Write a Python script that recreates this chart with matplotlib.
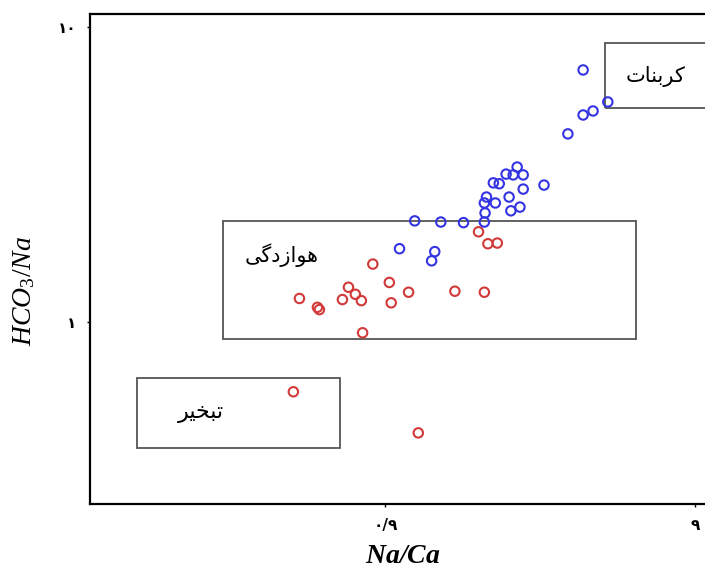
import matplotlib
matplotlib.use("Agg")
import matplotlib.pyplot as plt
from matplotlib.patches import Rectangle

plt.rcParams['font.family'] = ['DejaVu Sans']
plt.rcParams['mathtext.fontset'] = 'custom'
plt.rcParams['mathtext.rm'] = 'Liberation Serif'
plt.rcParams['mathtext.it'] = 'Liberation Serif:italic'
plt.rcParams['mathtext.bf'] = 'Liberation Serif:bold:italic'

# data (Na/Ca, HCO3/Na)
blue_x = [3.92, 4.71, 4.22, 3.92, 3.50, 2.93, 2.40, 2.21, 2.33, 2.51, 2.01, 2.10, 2.51, 1.91,
          2.26, 2.04, 2.45, 2.29, 1.88, 1.89, 1.88, 1.12, 1.36, 1.61, 1.00, 1.30, 1.27]
blue_y = [7.15, 5.57, 5.19, 5.03, 4.34, 2.91, 3.35, 3.17, 3.15, 3.15, 2.96, 2.94, 2.82, 2.65,
          2.65, 2.53, 2.45, 2.38, 2.53, 2.34, 2.18, 2.20, 2.18, 2.17, 1.77, 1.73, 1.61]
red_x = [1.80, 1.93, 2.07, 0.82, 0.475, 0.543, 0.551, 0.684, 0.72, 0.654, 0.753, 0.927,
         1.07, 0.94, 0.76, 1.51, 1.88, 0.454, 1.15]
red_y = [2.02, 1.84, 1.85, 1.57, 1.20, 1.12, 1.10, 1.31, 1.24, 1.19, 1.18, 1.36,
         1.26, 1.16, 0.918, 1.27, 1.26, 0.579, 0.420]

# boxes: (x0, x1, y0, y1)
box_carb = (4.6, 12.0, 5.31, 8.83)
box_weath = (0.268, 5.8, 0.877, 2.2)
box_evap = (0.142, 0.64, 0.374, 0.646)

# labels, written in shaped visual order
lab_carb = '\uFE95\uFE8E\uFEE8\uFE91\uFEAE\uFEDB'      # کربنات
lab_weath = '\uFEF0\uFB94\uFEA9\uFEAF\uFE8D\uFEEE\uFEEB'  # هوازدگی
lab_evap = '\uFEAE\uFEF4\uFEA8\uFE92\uFE97'            # تبخیر

xticks = [0.9, 9]
xticklabels = ['\u06F0/\u06F9', '\u06F9']
yticks = [1, 10]
yticklabels = ['\u06F1', '\u06F1\u06F0']

fig = plt.figure(figsize=(7.05, 5.68), dpi=100)
ax = fig.add_axes([90/705, 1-504/568, 619/705, 490/568])
ax.set_xscale('log')
ax.set_yscale('log')
ax.set_xlim(0.1, 10)
ax.set_ylim(0.241, 11.07)

for b in [box_carb, box_weath, box_evap]:
    ax.add_patch(Rectangle((b[0], b[2]), b[1]-b[0], b[3]-b[2], fill=False,
                           edgecolor='#555555', lw=1.3, zorder=1))

ax.scatter(red_x, red_y, s=46, facecolors='none', edgecolors='#d23a3a', linewidths=1.5, zorder=3)
ax.scatter(blue_x, blue_y, s=46, facecolors='none', edgecolors='#3434e2', linewidths=1.5, zorder=3)

ax.text(6.73, 6.77, lab_carb, fontsize=15, ha='center', va='center')
ax.text(0.416, 1.687, lab_weath, fontsize=15, ha='center', va='center')
ax.text(0.228, 0.491, lab_evap, fontsize=16, ha='center', va='center')

ax.set_xticks(xticks)
ax.set_xticklabels(xticklabels, fontsize=11, fontweight='bold')
ax.set_yticks(yticks)
ax.set_yticklabels(yticklabels, fontsize=11, fontweight='bold')
ax.minorticks_off()
ax.tick_params(length=2, width=1, pad=8)

for s in ['left', 'bottom', 'top']:
    ax.spines[s].set_linewidth(1.6)
ax.spines['right'].set_visible(False)

ax.set_xlabel(r'$\mathbf{Na/Ca}$', fontsize=20)
ax.xaxis.set_label_coords(0.506, -0.075)
ax.set_ylabel(r'$HCO_3/Na$', fontsize=20)
ax.yaxis.set_label_coords(-0.085, 0.435)

fig.savefig('out.png', dpi=100)
